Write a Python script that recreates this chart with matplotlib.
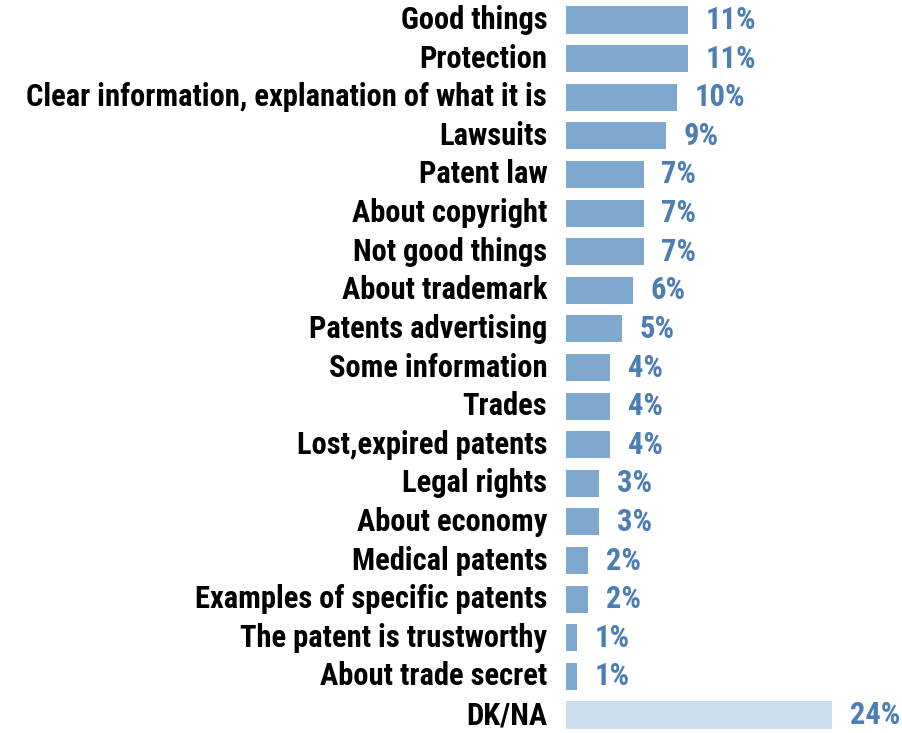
import matplotlib.pyplot as plt

labels = ["Good things", "Protection", "Clear information, explanation of what it is",
          "Lawsuits", "Patent law", "About copyright", "Not good things",
          "About trademark", "Patents advertising", "Some information", "Trades",
          "Lost,expired patents", "Legal rights", "About economy", "Medical patents",
          "Examples of specific patents", "The patent is trustworthy",
          "About trade secret", "DK/NA"]
values = [11, 11, 10, 9, 7, 7, 7, 6, 5, 4, 4, 4, 3, 3, 2, 2, 1, 1, 24]

plt.rcParams['font.family'] = ['Roboto Condensed', 'Liberation Sans', 'DejaVu Sans']

fig = plt.figure(figsize=(9.02, 7.33), dpi=100)
ax = fig.add_axes([566 / 902, 0, 333 / 902, 1])

# last bar (DK/NA) in a lighter shade
colors = ['#7EA8CE'] * (len(values) - 1) + ['#CCDDEB']
ypos = list(range(len(values)))
ax.barh(ypos, values, height=0.7, color=colors)

for y, v, name in zip(ypos, values, labels):
    ax.text(v + 1.6, y, f"{v}%", va='center', ha='left', fontsize=22,
            fontweight='bold', color='#4A7EB5')
    ax.text(-1.7, y, name, va='center', ha='right', fontsize=22,
            fontweight='bold', color='black')

ax.set_xlim(0, 30)
ax.set_ylim(18.466, -0.518)
ax.axis('off')

plt.savefig('out.png', dpi=100)
